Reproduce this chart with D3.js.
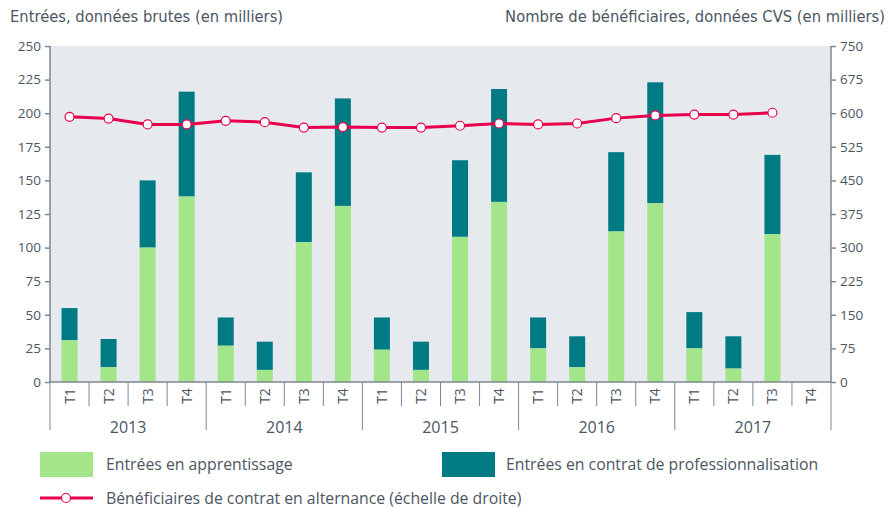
<!DOCTYPE html>
<meta charset="utf-8">
<style>
body { margin: 0; background: #fff; }
text { font-family: "Open Sans", "Noto Sans", sans-serif; fill: #4b5662; }
.title { font-family: "Liberation Sans Narrow", "DejaVu Sans Condensed", sans-serif; font-size: 16.4px; }
.tick text { font-size: 13.5px; }
.legend text { font-size: 15.8px; }
</style>
<body>
<svg width="892" height="508"></svg>
<script src="https://cdnjs.cloudflare.com/ajax/libs/d3/7.8.5/d3.min.js"></script>
<script>

var years = ["2013", "2014", "2015", "2016", "2017"];
var quarters = ["T1", "T2", "T3", "T4"];

// entrées en apprentissage (milliers)
var apprentissage = [31, 11, 100, 138,  27, 9, 104, 131,  24, 9, 108, 134,  25, 11, 112, 133,  25, 10, 110, null];
// total entrées (apprentissage + professionnalisation)
var totalEntrees = [55, 32, 150, 216,  48, 30, 156, 211,  48, 30, 165, 218,  48, 34, 171, 223,  52, 34, 169, null];
// bénéficiaires (échelle de droite)
var beneficiaires = [592, 588, 575, 575,  583, 580, 568, 569,  568, 568, 572, 577,  575, 577, 589, 595,  597, 597, 601, null];

var svg = d3.select("svg");

var margin = {left: 50, right: 61, top: 46, bottom: 126};
var width = 892 - margin.left - margin.right,
    height = 508 - margin.top - margin.bottom;

var keys = [];
years.forEach(function(y) { quarters.forEach(function(q) { keys.push(y + "-" + q); }); });

var x = d3.scaleBand().domain(keys).range([margin.left, margin.left + width]);
var yL = d3.scaleLinear().domain([0, 250]).range([margin.top + height, margin.top]);
var yR = d3.scaleLinear().domain([0, 750]).range([margin.top + height, margin.top]);

var green = "#a3e68a", teal = "#007b84", red = "#e8004c", axisCol = "#7d8791";

svg.append("rect")
    .attr("x", margin.left).attr("y", margin.top)
    .attr("width", width).attr("height", height)
    .attr("fill", "#e6e9ee");

// titles
svg.append("text").attr("class", "title")
    .attr("x", 10).attr("y", 22)
    .text("Entrées, données brutes (en milliers)");
svg.append("text").attr("class", "title")
    .attr("x", 885).attr("y", 22).attr("text-anchor", "end")
    .text("Nombre de bénéficiaires, données CVS (en milliers)");

// bars
var barW = 16;
var data = keys.map(function(k, i) {
  return {key: k, a: apprentissage[i], t: totalEntrees[i], b: beneficiaires[i]};
}).filter(function(d) { return d.a != null; });

svg.append("g").selectAll("rect")
  .data(data)
  .enter().append("rect")
    .attr("x", function(d) { return x(d.key) + x.bandwidth() / 2 - barW / 2; })
    .attr("width", barW)
    .attr("y", function(d) { return yL(d.t); })
    .attr("height", function(d) { return yL(d.a) - yL(d.t); })
    .attr("fill", teal);

svg.append("g").selectAll("rect")
  .data(data)
  .enter().append("rect")
    .attr("x", function(d) { return x(d.key) + x.bandwidth() / 2 - barW / 2; })
    .attr("width", barW)
    .attr("y", function(d) { return yL(d.a); })
    .attr("height", function(d) { return yL(0) - yL(d.a); })
    .attr("fill", green);

// axes
var leftAxis = svg.append("g")
    .attr("transform", "translate(" + margin.left + ",0)")
    .call(d3.axisLeft(yL).tickValues(d3.range(0, 251, 25)).tickSize(5).tickPadding(4));
var rightAxis = svg.append("g")
    .attr("transform", "translate(" + (margin.left + width) + ",0)")
    .call(d3.axisRight(yR).tickValues(d3.range(0, 751, 75)).tickSize(5).tickPadding(4));
[leftAxis, rightAxis].forEach(function(a) {
  a.selectAll("path, line").attr("stroke", axisCol).attr("stroke-width", 1.5);
  a.select(".domain").attr("d", function() {
    return "M" + 0 + "," + yL(250) + "V" + yL(0);
  });
});
leftAxis.selectAll("text").attr("fill", "#4b5662");
rightAxis.selectAll("text").attr("fill", "#4b5662");

// x axis
var base = margin.top + height;
var xg = svg.append("g");
xg.append("line")
    .attr("x1", margin.left).attr("x2", margin.left + width)
    .attr("y1", base).attr("y2", base)
    .attr("stroke", axisCol).attr("stroke-width", 1.5);

xg.selectAll(".qtick")
  .data(keys.concat(["end"]))
  .enter().append("line")
    .attr("x1", function(d, i) { return x.range()[0] + i * x.step(); })
    .attr("x2", function(d, i) { return x.range()[0] + i * x.step(); })
    .attr("y1", base)
    .attr("y2", function(d, i) { return i % 4 === 0 ? base + 48 : base + 24; })
    .attr("stroke", axisCol).attr("stroke-width", 1);

xg.selectAll(".qlabel")
  .data(keys)
  .enter().append("text")
    .attr("transform", function(d) {
      return "translate(" + (x(d) + x.bandwidth() / 2 + 5) + "," + (base + 14) + ") rotate(-90)";
    })
    .attr("text-anchor", "middle")
    .attr("font-size", 14)
    .text(function(d) { return d.split("-")[1]; });

xg.selectAll(".ylabel")
  .data(years)
  .enter().append("text")
    .attr("x", function(d) { return x(d + "-T2") + x.bandwidth(); })
    .attr("y", base + 51)
    .attr("text-anchor", "middle")
    .attr("font-size", 16)
    .text(function(d) { return d; });

// line
var lineData = data.filter(function(d) { return d.b != null; });
var line = d3.line()
    .x(function(d) { return x(d.key) + x.bandwidth() / 2; })
    .y(function(d) { return yR(d.b); });

svg.append("path")
    .datum(lineData)
    .attr("d", line)
    .attr("fill", "none")
    .attr("stroke", red)
    .attr("stroke-width", 3);

svg.append("g").selectAll("circle")
  .data(lineData)
  .enter().append("circle")
    .attr("cx", function(d) { return x(d.key) + x.bandwidth() / 2; })
    .attr("cy", function(d) { return yR(d.b); })
    .attr("r", 4.5)
    .attr("fill", "#fff")
    .attr("stroke", red)
    .attr("stroke-width", 1.2);

// legend
var lg = svg.append("g").attr("class", "legend");
lg.append("rect").attr("x", 40).attr("y", 452).attr("width", 53).attr("height", 25).attr("fill", green);
lg.append("text").attr("x", 106).attr("y", 470).text("Entrées en apprentissage");
lg.append("rect").attr("x", 442).attr("y", 452).attr("width", 53).attr("height", 25).attr("fill", teal);
lg.append("text").attr("x", 506).attr("y", 470).text("Entrées en contrat de professionnalisation");
lg.append("line").attr("x1", 40).attr("x2", 93).attr("y1", 498).attr("y2", 498)
    .attr("stroke", red).attr("stroke-width", 3);
lg.append("circle").attr("cx", 66).attr("cy", 498).attr("r", 4.5)
    .attr("fill", "#fff").attr("stroke", red).attr("stroke-width", 1.2);
lg.append("text").attr("x", 106).attr("y", 504).text("Bénéficiaires de contrat en alternance (échelle de droite)");

</script>
</body>
